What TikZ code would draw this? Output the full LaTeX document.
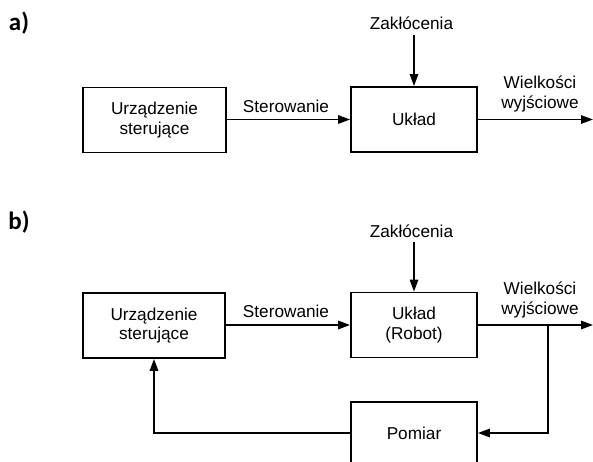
\documentclass[tikz,border=0pt]{standalone}
\usepackage{fontspec}
\setmainfont{Liberation Sans}
\newfontfamily\literafont{Carlito}
\usetikzlibrary{arrows.meta}

\tikzset{
  blok/.style={draw,line width=0.9pt,minimum height=32.5pt,align=center,
    inner sep=2pt,font=\fontsize{8.6}{9.8}\selectfont},
  strzalka/.style={line width=0.9pt,-{Triangle[length=6pt,width=4.2pt]}},
  opis/.style={align=center,inner sep=0pt,font=\fontsize{8.6}{9.6}\selectfont},
  litera/.style={inner sep=0pt,font=\literafont\bfseries\fontsize{12.5}{13}\selectfont}
}

\begin{document}
\begin{tikzpicture}[x=0.5pt,y=-0.5pt]
  \useasboundingbox (0,0) rectangle (593,461);
  % a) uklad otwarty
  \node[litera] (la) at (19,23) {a)};
  \node[blok,minimum width=71.5pt] (ua) at (154.5,120) {Urządzenie\\sterujące};
  \node[blok,minimum width=63pt] (ka) at (414,119.5) {Układ};
  \node[opis] (sa) at (286,106) {Sterowanie};
  \node[opis] (za) at (411.5,23) {Zakłócenia};
  \node[opis] (wa) at (540,94) {Wielkości\\wyjściowe};
  \coordinate (za0) at (414,35);
  \coordinate (wa1) at (593,119.5);
  \draw[strzalka] (ua.east |- ka.west) -- (ka.west);
  \draw[strzalka] (za0) -- (ka.north);
  \draw[strzalka] (ka.east) -- (wa1);
  % b) uklad zamkniety
  \node[litera] (lb) at (19,222) {b)};
  \node[blok,minimum width=71pt] (ub) at (154,325.5) {Urządzenie\\sterujące};
  \node[blok,minimum width=63pt] (kb) at (414,325) {Układ\\(Robot)};
  \node[blok,minimum width=63pt,minimum height=31pt] (pb) at (414,433) {Pomiar};
  \node[opis] (sb) at (286,311) {Sterowanie};
  \node[opis] (zb) at (411.5,231) {Zakłócenia};
  \node[opis] (wb) at (540,300) {Wielkości\\wyjściowe};
  \coordinate (zb0) at (414,242);
  \coordinate (wb1) at (593,325);
  \coordinate (wez) at (548,325);
  \draw[strzalka] (ub.east |- kb.west) -- (kb.west);
  \draw[strzalka] (zb0) -- (kb.north);
  \draw[strzalka] (kb.east) -- (wb1);
  \draw[strzalka] (wez) |- (pb.east);
  \draw[strzalka] (pb.west) -| (ub.south);
\end{tikzpicture}
\end{document}
